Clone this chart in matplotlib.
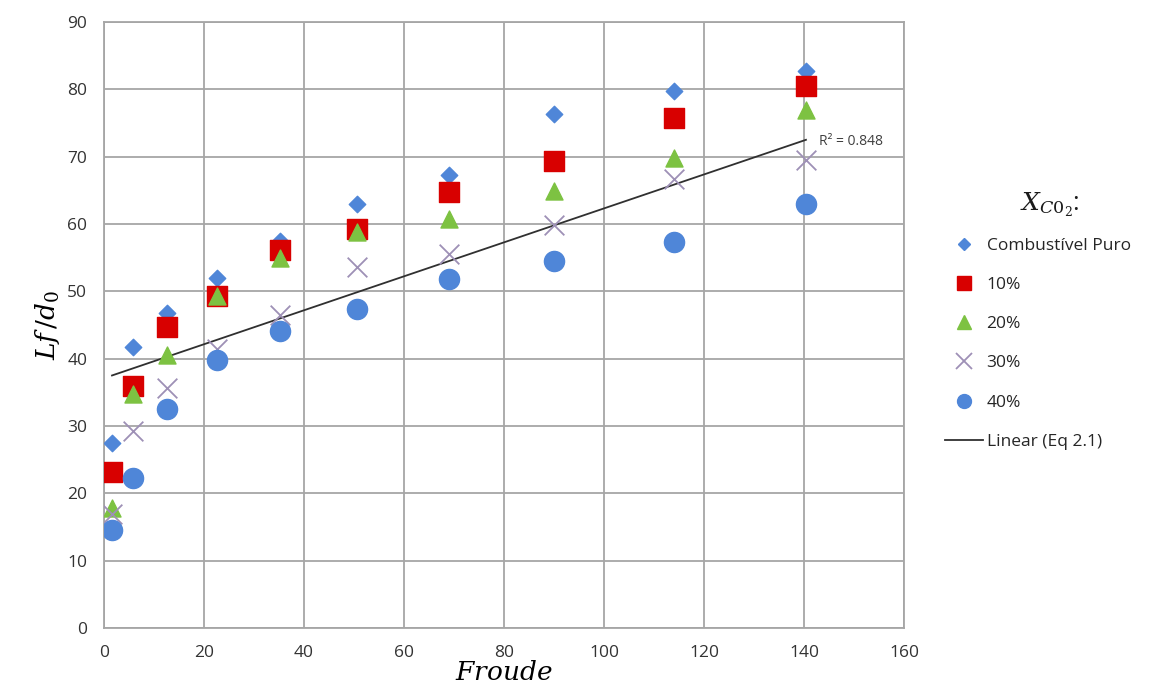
import matplotlib
matplotlib.use("Agg")
import matplotlib.pyplot as plt
from matplotlib.lines import Line2D

plt.rcParams['font.family'] = ['Open Sans', 'DejaVu Sans']
plt.rcParams['mathtext.fontset'] = 'dejavuserif'

froude = [1.6, 5.8, 12.7, 22.6, 35.2, 50.7, 69.0, 90.0, 114.0, 140.4]
puro = [27.5, 41.7, 46.8, 52.0, 57.4, 62.9, 67.3, 76.4, 79.7, 82.7]
co2_10 = [23.2, 35.9, 44.7, 49.3, 56.1, 59.2, 64.8, 69.3, 75.8, 80.5]
co2_20 = [17.8, 34.7, 40.5, 49.3, 55.0, 58.8, 60.8, 64.9, 69.8, 76.9]
co2_30 = [17.0, 29.3, 35.6, 41.5, 46.5, 53.6, 55.6, 59.9, 66.7, 69.5]
co2_40 = [14.6, 22.3, 32.5, 39.8, 44.1, 47.4, 51.8, 54.5, 57.3, 62.9]
linear_x = [1.6, 140.4]
linear_y = [37.5, 72.5]
r2_label = "R² = 0.848"
labels = ["Combustível Puro", "10%", "20%", "30%", "40%", "Linear (Eq 2.1)"]

fig = plt.figure(figsize=(11.53, 7.0), dpi=100)
ax = fig.add_axes([0.0902, 0.1029, 0.784 - 0.0902, 0.9686 - 0.1029])

ax.plot(linear_x, linear_y, color='#303030', lw=1.3, zorder=2)
ax.scatter(froude, puro, marker='D', s=70, color='#4F86D8', zorder=3)
ax.scatter(froude, co2_10, marker='s', s=190, color='#D80000', zorder=3)
ax.scatter(froude, co2_20, marker='^', s=150, color='#7DC242', zorder=3)
ax.scatter(froude, co2_30, marker='x', s=200, color='#9E90B6', linewidths=1.3, zorder=3)
ax.scatter(froude, co2_40, marker='o', s=210, color='#4F86D8', zorder=3)

ax.text(143, 72.3, r2_label, fontsize=10, color='#404040', va='center', ha='left')

ax.set_xlim(0, 160)
ax.set_ylim(0, 90)
ax.set_xticks(range(0, 161, 20))
ax.set_yticks(range(0, 91, 10))
ax.grid(True, color='#A6A6A6', lw=1.3)
ax.set_axisbelow(True)
for sp in ax.spines.values():
    sp.set_color('#A6A6A6')
    sp.set_linewidth(1.3)
ax.tick_params(length=0, labelsize=12.5, colors='#333333', pad=12)

ax.set_xlabel(r'$Froude$', fontsize=19, labelpad=0)
ax.set_ylabel(r'$Lf\,/d_0$', fontsize=19, labelpad=4)

handles = [
    Line2D([], [], marker='D', ls='', color='#4F86D8', markersize=6.5),
    Line2D([], [], marker='s', ls='', color='#D80000', markersize=10),
    Line2D([], [], marker='^', ls='', color='#7DC242', markersize=10),
    Line2D([], [], marker='x', ls='', color='#9E90B6', markersize=11, markeredgewidth=1.3),
    Line2D([], [], marker='o', ls='', color='#4F86D8', markersize=10),
    Line2D([], [], color='#303030', lw=1.3),
]
leg = fig.legend(handles, labels, loc='upper left', bbox_to_anchor=(0.806, 0.683),
                 frameon=False, fontsize=12.5, labelspacing=1.33, handlelength=2.2,
                 handletextpad=0.2)
plt.setp(leg.get_texts(), color='#262626')
fig.text(0.9107, 0.707, r'$X_{C0_2}$:', fontsize=18, ha='center', va='center',
         color='#1a1a1a')

fig.savefig('out.png', dpi=100)
